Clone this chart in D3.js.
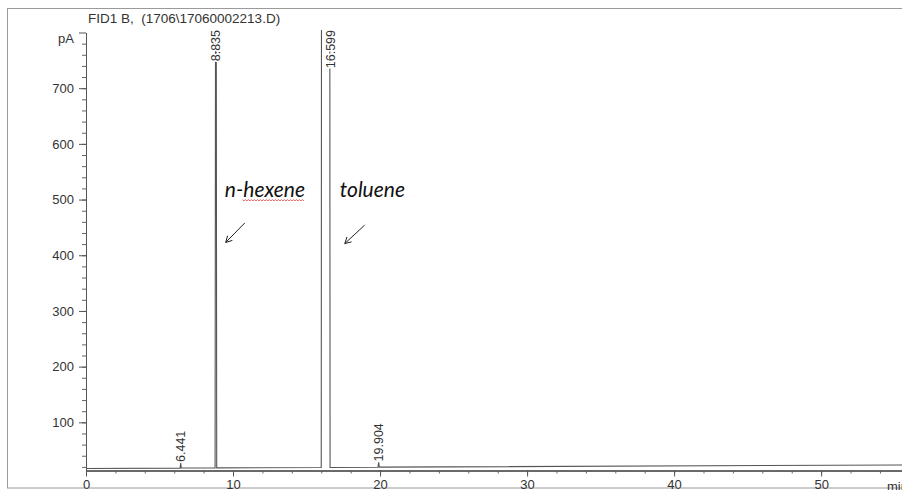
<!DOCTYPE html>
<html>
<head>
<meta charset="utf-8">
<script src="https://cdn.jsdelivr.net/npm/d3@7"></script>
<style>
  html, body { margin: 0; padding: 0; background: #fff; }
  svg { display: block; }
</style>
</head>
<body>
<svg id="chart" width="902" height="490"></svg>
<script>
// ---- data ----
const traceTime   = [0, 6.40, 6.441, 6.48, 8.78, 8.835, 8.89, 16.00, 16.03, 16.57, 16.60, 19.86, 19.904, 19.95, 55.5];
const traceSignal = [17, 17.8, 27, 17.9, 18.2, 1500, 18.3, 18.8, 1500, 1500, 19.0, 19.4, 28, 19.5, 23.5];
const peakTimes   = [6.441, 8.835, 16.599, 19.904];
const peakLabels  = ["6.441", "8.835", "16.599", "19.904"];
const peakApex    = [27, 1500, 1500, 28];
const xMajorTicks = [0, 10, 20, 30, 40, 50];
const yMajorTicks = [100, 200, 300, 400, 500, 600, 700, 800];
const compoundNames = ["n-hexene", "toluene"];
const compoundTextPos = [[9.44, 504], [17.26, 504]];
const arrowFrom = [[10.8, 458], [18.95, 454]];
const arrowTo   = [[9.5, 423], [17.6, 421]];
const titleText = "FID1 B,  (1706\\17060002213.D)";

// ---- layout ----
const svg = d3.select("#chart");
const x = d3.scaleLinear().domain([0, 55.5]).range([86, 902]);
const y = d3.scaleLinear().domain([13.5, 800]).range([470.5, 32.5]);
const font = "'Liberation Sans', Arial, sans-serif";
const ink = "#333";

// outer frame
svg.append("rect").attr("x", 7.5).attr("y", 8.5).attr("width", 900).attr("height", 479.5)
  .attr("fill", "none").attr("stroke", "#9a9a9a").attr("stroke-width", 1);

// title
svg.append("text").attr("x", 88).attr("y", 23)
  .attr("font-family", font).attr("font-size", 13.5).attr("fill", ink)
  .style("white-space", "pre").text(titleText);

// clip
svg.append("clipPath").attr("id", "plotclip").append("rect")
  .attr("x", 86).attr("y", 30).attr("width", 820).attr("height", 445);

// x axis
const xAxisG = svg.append("g").attr("transform", `translate(0,${y.range()[0]})`);
xAxisG.call(d3.axisBottom(x).tickValues(d3.range(0, 56, 2)).tickSize(3).tickFormat("").tickSizeOuter(0));
xAxisG.call(g => g.selectAll(".tick line").attr("stroke", "#666"));
const xMaj = svg.append("g").attr("transform", `translate(0,${y.range()[0]})`)
  .call(d3.axisBottom(x).tickValues(xMajorTicks).tickSize(6).tickPadding(3).tickSizeOuter(0));
xMaj.select(".domain").attr("stroke", "#555");
xMaj.selectAll(".tick line").attr("stroke", "#555");
xMaj.selectAll(".tick text").attr("font-family", font).attr("font-size", 13).attr("fill", ink);
svg.append("text").attr("x", 887).attr("y", 491).attr("font-family", font)
  .attr("font-size", 13).attr("fill", ink).text("min");

// y axis
const yMin = svg.append("g").attr("transform", "translate(86,0)")
  .call(d3.axisLeft(y).tickValues(d3.range(20, 800, 20)).tickSize(4).tickFormat("").tickSizeOuter(0));
yMin.selectAll(".tick line").attr("stroke", "#666");
yMin.select(".domain").attr("stroke", "#555");
const yMaj = svg.append("g").attr("transform", "translate(86,0)")
  .call(d3.axisLeft(y).tickValues(yMajorTicks).tickSize(7).tickPadding(5).tickSizeOuter(0)
    .tickFormat(d => d === 800 ? "pA" : d));
yMaj.select(".domain").attr("stroke", "#555");
yMaj.selectAll(".tick line").attr("stroke", "#555");
yMaj.selectAll(".tick text").attr("font-family", font).attr("font-size", 13).attr("fill", ink);
yMaj.selectAll(".tick text").filter(d => d === 800).attr("dy", "0.75em");

// trace
const traceData = traceTime.map((t, i) => [t, traceSignal[i]]);
svg.append("path").datum(traceData)
  .attr("clip-path", "url(#plotclip)")
  .attr("fill", "none").attr("stroke", "#555").attr("stroke-width", 1.1)
  .attr("d", d3.line().x(d => x(d[0])).y(d => y(d[1])));

// peak labels
peakTimes.forEach((t, i) => {
  const offScale = peakApex[i] > y.domain()[1];
  const px = x(t), py = offScale ? 30 : y(peakApex[i]) - 1;
  svg.append("text")
    .attr("transform", `translate(${px},${py}) rotate(-90)`)
    .attr("text-anchor", offScale ? "end" : "start")
    .attr("dy", "0.36em")
    .attr("font-family", font).attr("font-size", 12.5).attr("fill", ink)
    .attr("stroke", "#fff").attr("stroke-width", 3).attr("paint-order", "stroke")
    .text(peakLabels[i]);
});

// compound annotations
const annFont = "Lato, 'Open Sans', sans-serif";
compoundNames.forEach((name, i) => {
  const t = svg.append("text")
    .attr("x", x(compoundTextPos[i][0])).attr("y", y(compoundTextPos[i][1]))
    .attr("font-family", annFont).attr("font-style", "italic").attr("font-size", 21)
    .attr("fill", "#111").text(name);
  if (i === 0) {
    const bb = t.node().getBBox();
    const x0 = bb.x + bb.width * 0.22, x1 = bb.x + bb.width - 1, yy = y(compoundTextPos[i][1]) + 2.5;
    const pts = d3.range(x0, x1, 1.5).map((xx, k) => [xx, yy + (k % 2 ? 1 : -0.2)]);
    svg.append("path").attr("d", d3.line()(pts)).attr("fill", "none")
      .attr("stroke", "#e04040").attr("stroke-width", 0.8);
  }
  const x1 = x(arrowFrom[i][0]), y1 = y(arrowFrom[i][1]);
  const x2 = x(arrowTo[i][0]), y2 = y(arrowTo[i][1]);
  svg.append("line").attr("x1", x1).attr("y1", y1).attr("x2", x2).attr("y2", y2)
    .attr("stroke", "#222").attr("stroke-width", 1);
  const ang = Math.atan2(y2 - y1, x2 - x1);
  const L = 7, spread = 0.5;
  [ang + Math.PI - spread, ang + Math.PI + spread].forEach(a => {
    svg.append("line").attr("x1", x2).attr("y1", y2)
      .attr("x2", x2 + L * Math.cos(a)).attr("y2", y2 + L * Math.sin(a))
      .attr("stroke", "#222").attr("stroke-width", 1);
  });
});
</script>
</body>
</html>
